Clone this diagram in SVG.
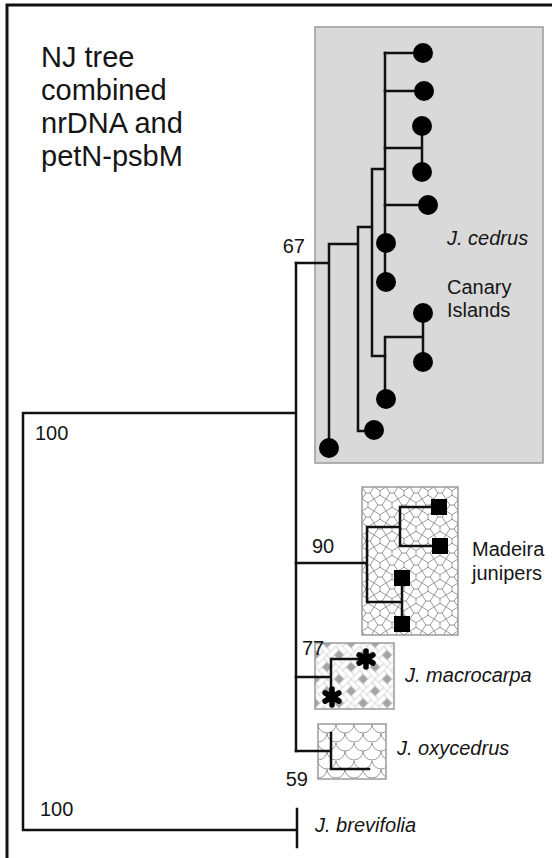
<svg xmlns="http://www.w3.org/2000/svg" width="552" height="858" viewBox="0 0 552 858">
<style>
.t{font-family:"Liberation Sans",Arial,sans-serif;fill:#151515;font-size:20px}
.it{font-style:italic}
.title{font-size:29px}
.br{fill:none;stroke:#111;stroke-width:2.5;stroke-linecap:square}
.dot{fill:#000}
.box{stroke:#9a9a9a;stroke-width:1.5}
.ast{fill:none;stroke:#000;stroke-width:5.5;stroke-linecap:round}
</style>
<defs>
<pattern id="cairo" width="24" height="24" patternUnits="userSpaceOnUse" x="362" y="487">
<rect width="24" height="24" fill="#fff"/>
<path d="M3.8,6H8.2M0,0L3.8,6M0,12L3.8,6M12,0L8.2,6M12,12L8.2,6 M18,3.8V8.2M12,0L18,3.8M24,0L18,3.8M12,12L18,8.2M24,12L18,8.2 M6,15.8V20.2M0,12L6,15.8M12,12L6,15.8M0,24L6,20.2M12,24L6,20.2 M15.8,18H20.2M12,12L15.8,18M12,24L15.8,18M24,12L20.2,18M24,24L20.2,18" fill="none" stroke="#9a9a9a" stroke-width="1"/>
</pattern>
<pattern id="weave" width="17" height="17" patternUnits="userSpaceOnUse" patternTransform="translate(315,643) rotate(45)">
<rect width="17" height="17" fill="#a4a4a4"/>
<g fill="#fff" stroke="#c4c4c4" stroke-width="0.6">
<rect x="0" y="0" width="12" height="5"/>
<rect x="12" y="0" width="5" height="12"/>
<rect x="5" y="12" width="12" height="5"/>
<rect x="0" y="5" width="5" height="12"/>
</g>
</pattern>
<pattern id="scales" width="18" height="18" patternUnits="userSpaceOnUse" x="318" y="724">
<rect width="18" height="18" fill="#fff"/>
<path d="M0,0A9,9 0 0 0 18,0M-9,9A9,9 0 0 0 9,9M9,9A9,9 0 0 0 27,9M0,18A9,9 0 0 0 18,18" fill="none" stroke="#9a9a9a" stroke-width="1"/>
</pattern>
<path id="star" d="M0,-8V8M-6.9,-4L6.9,4M-6.9,4L6.9,-4"/>
</defs>

<rect x="7" y="5" width="560" height="870" fill="#fff" stroke="#111" stroke-width="3"/>

<g id="title">
<text class="t title" x="41" y="67">NJ tree</text>
<text class="t title" x="41" y="100">combined</text>
<text class="t title" x="41" y="133">nrDNA and</text>
<text class="t title" x="41" y="166">petN-psbM</text>
</g>

<g id="cedrus-box"><rect class="box" x="315" y="27" width="228" height="436" fill="#d9d9d9"/></g>
<g id="madeira-box"><rect class="box" x="362" y="487" width="96" height="148" fill="url(#cairo)"/></g>
<g id="macrocarpa-box"><rect class="box" x="315" y="643" width="79" height="66" fill="url(#weave)"/></g>
<g id="oxycedrus-box"><rect class="box" x="318" y="724" width="68" height="55" fill="url(#scales)"/></g>

<g id="connectors" class="br">
<path d="M23,413V830H297M297,809V847M23,413H296M296,263V751"/>
<path d="M296,263H329M329,244V448M329,244H358M358,227V431H374M358,227H372M372,169V356H385M372,169H385M385,53V282"/>
<path d="M385,53H423M385,91H424M385,148H422M422,126V172M385,205H428"/>
<path d="M385,337V399M385,337H423M423,313V362"/>
<path d="M296,563H367M367,527V602M367,527H400M400,507V546M400,507H439M400,546H440M367,602H402M402,578V624"/>
<path d="M296,677H331M331,659V697M331,659H366"/>
<path d="M296,751H331M331,733V769H369"/>
</g>

<g id="cedrus-leaves" class="dot">
<circle cx="423" cy="53" r="10"/>
<circle cx="424" cy="91" r="10"/>
<circle cx="422" cy="126" r="10"/>
<circle cx="422" cy="172" r="10"/>
<circle cx="428" cy="205" r="10"/>
<circle cx="386" cy="243" r="10"/>
<circle cx="386" cy="282" r="10"/>
<circle cx="423" cy="313" r="10"/>
<circle cx="423" cy="362" r="10"/>
<circle cx="386" cy="399" r="10"/>
<circle cx="374" cy="430" r="10"/>
<circle cx="329" cy="448" r="10"/>
</g>

<g id="madeira-leaves" class="dot">
<rect x="431" y="499" width="16" height="16"/>
<rect x="432" y="538" width="16" height="16"/>
<rect x="394" y="570" width="16" height="16"/>
<rect x="394" y="616" width="16" height="16"/>
</g>

<g id="macrocarpa-leaves" class="ast">
<use href="#star" x="366" y="659"/>
<use href="#star" x="332" y="697"/>
</g>

<g id="labels">
<text class="t it" x="447" y="245">J. cedrus</text>
<text class="t" x="447" y="294">Canary</text>
<text class="t" x="447" y="317">Islands</text>
<text class="t" x="472" y="556">Madeira</text>
<text class="t" x="472" y="580">junipers</text>
<text class="t it" x="405" y="682">J. macrocarpa</text>
<text class="t it" x="397" y="755">J. oxycedrus</text>
<text class="t it" x="315" y="832">J. brevifolia</text>
<text class="t" x="305" y="253" text-anchor="end">67</text>
<text class="t" x="35" y="440">100</text>
<text class="t" x="312" y="553">90</text>
<text class="t" x="302" y="655">77</text>
<text class="t" x="308" y="786" text-anchor="end">59</text>
<text class="t" x="40" y="816">100</text>
</g>
</svg>
